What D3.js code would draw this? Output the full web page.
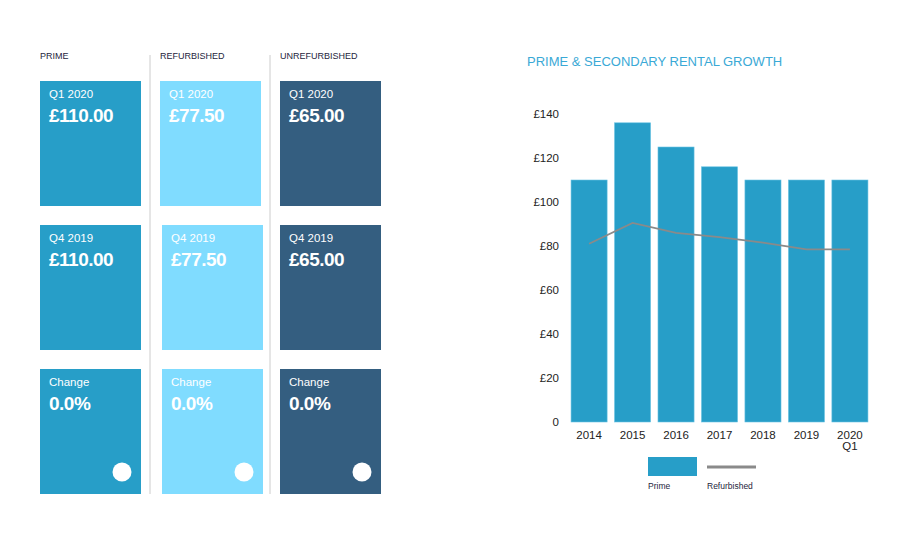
<!DOCTYPE html><html><head><meta charset="utf-8"><script src="https://cdn.jsdelivr.net/npm/d3@7"></script>
<style>body{margin:0;background:#fff;font-family:"Liberation Sans",Arial,sans-serif}</style></head><body><svg id="c" width="908" height="545"></svg>
<script>
const years=["2014","2015","2016","2017","2018","2019","2020 Q1"];
const prime=[110,136,125,116,110,110,110];
const refurbished=[81,90.5,86,84,81.5,78.5,78.5];
const yTicks=[0,20,40,60,80,100,120,140];
const tileCols=["PRIME","REFURBISHED","UNREFURBISHED"];
const tileColors=["#279ec8","#80dcff","#345e80"];
const tileRows=["Q1 2020","Q4 2019","Change"];
const tileValues=[["£110.00","£77.50","£65.00"],["£110.00","£77.50","£65.00"],["0.0%","0.0%","0.0%"]];
const svg=d3.select("#c");
const cx=d3.scalePoint().domain(tileCols).range([40,280]);
const ry=d3.scalePoint().domain(tileRows).range([81,369]);
tileCols.forEach((c,i)=>{
 svg.append("text").attr("x",cx(c)).attr("y",59).text(c).attr("font-size",9).attr("fill","#1e1e3c");
 if(i>0) svg.append("line").attr("x1",cx(c)-10).attr("x2",cx(c)-10).attr("y1",55).attr("y2",494).attr("stroke","#ccc");
 tileRows.forEach((r,j)=>{
  const x=cx(c)+(i==1&&j>0?2:0), y=ry(r);
  svg.append("rect").attr("x",x).attr("y",y).attr("width",101).attr("height",125).attr("fill",tileColors[i]);
  svg.append("text").attr("x",x+9).attr("y",y+17).text(r).attr("font-size",11.5).attr("fill","#fff");
  svg.append("text").attr("x",x+9).attr("y",y+41).text(tileValues[j][i]).attr("font-size",19).attr("font-weight","bold").attr("fill","#fff").attr("letter-spacing","-0.5");
  if(j==2) svg.append("circle").attr("cx",x+82).attr("cy",y+103).attr("r",9.5).attr("fill","#fff");
 });
});
svg.append("text").attr("x",527).attr("y",66).text("PRIME & SECONDARY RENTAL GROWTH").attr("font-size",13).attr("fill","#3aa9d6");
const x=d3.scaleBand().domain(years).range([568,871]).paddingInner(0.17).paddingOuter(0.07);
const y=d3.scaleLinear().domain([0,140]).range([422,114]);
svg.selectAll(".b").data(prime).enter().append("rect").attr("x",(d,i)=>x(years[i])).attr("y",d=>y(d)).attr("width",x.bandwidth()).attr("height",d=>y(0)-y(d)).attr("fill","#279ec8").attr("stroke","#6cc3e3").attr("stroke-width",0.6);
svg.append("path").datum(refurbished).attr("d",d3.line().x((d,i)=>x(years[i])+x.bandwidth()/2).y(d=>y(d))).attr("fill","none").attr("stroke","#8a8a8a").attr("stroke-width",1.8);
const ya=svg.append("g").attr("transform","translate(562,0)").call(d3.axisLeft(y).tickValues(yTicks).tickSize(0).tickFormat(d=>d===0?"0":"£"+d));
ya.select(".domain").remove();ya.selectAll("text").attr("font-size",11.5).attr("fill","#222").attr("font-family","Liberation Sans, Arial");
const xa=svg.append("g").attr("transform","translate(0,428)").call(d3.axisBottom(x).tickSize(0).tickFormat(""));
xa.select(".domain").remove();
xa.selectAll(".tick").each(function(d){const t=d3.select(this).append("text").attr("fill","#222").attr("font-size",11.5).attr("text-anchor","middle").attr("font-family","Liberation Sans, Arial");
 d.split(" ").forEach((s,k)=>t.append("tspan").attr("x",0).attr("y",11+k*11).text(s));});
svg.append("rect").attr("x",648).attr("y",457).attr("width",49).attr("height",19).attr("fill","#279ec8");
svg.append("line").attr("x1",707).attr("x2",756).attr("y1",467).attr("y2",467).attr("stroke","#8a8a8a").attr("stroke-width",3);
svg.append("text").attr("x",648).attr("y",489).text("Prime").attr("font-size",8.5).attr("fill","#1e1e3c");
svg.append("text").attr("x",707).attr("y",489).text("Refurbished").attr("font-size",8.5).attr("fill","#1e1e3c");
</script></body></html>
